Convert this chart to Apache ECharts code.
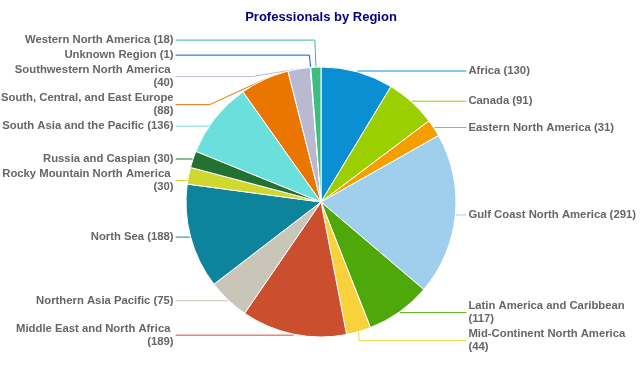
<!DOCTYPE html>
<html>
<head>
    <meta charset="utf-8">
    <title>Professionals by Region</title>
    <script src="https://cdn.jsdelivr.net/npm/echarts@6/dist/echarts.min.js"></script>
    <style>
        html, body { margin: 0; padding: 0; background: #fff; }
        #chart { width: 642px; height: 377px; }
    </style>
</head>
<body>
    <div id="chart"></div>
    <script>
    // region names, alphabetical as in the source chart
    const regions = [
        "Africa", "Canada", "Eastern North America", "Gulf Coast North America",
        "Latin America and Caribbean", "Mid-Continent North America",
        "Middle East and North Africa", "Northern Asia Pacific", "North Sea",
        "Rocky Mountain North America", "Russia and Caspian",
        "South Asia and the Pacific", "South, Central, and East Europe",
        "Southwestern North America", "Unknown Region", "Western North America"
    ];
    const headcount = [130, 91, 31, 291, 117, 44, 189, 75, 188, 30, 30, 136, 88, 40, 1, 18];
    const sliceColors = [
        "#0a8fd2", "#9bcf00", "#f49e00", "#a0cfee", "#4ea80a", "#f7d23a",
        "#cb4f2e", "#c9c6b9", "#0d849b", "#d0d82d", "#247232", "#6adfdc",
        "#ea7600", "#b9bad2", "#0062c8", "#3dbd80"
    ];
    // the two thin slices at the top get a longer first leg so their labels sit above the rest
    const lineLen = [1, 1, 1, 1, 1, 1, 1, 1, 1, 1, 1, 1, 1, 1, 14, 27];
    // North Sea sets the left-hand alignment column
    const lineLen2 = [10, 10, 10, 10, 10, 10, 10, 10, 14, 10, 10, 10, 10, 10, 10, 10];

    const chart = echarts.init(document.getElementById('chart'));

    chart.setOption({
        animation: false,
        title: {
            text: "Professionals by Region",
            left: "center",
            top: 6,
            textStyle: { color: "#000080", fontSize: 13, fontWeight: "bold", fontFamily: "Liberation Sans, Arial" }
        },
        series: [{
            type: "pie",
            center: [321, 202],
            radius: 135,
            startAngle: 90,
            clockwise: true,
            data: regions.map((name, i) => ({
                name: name,
                value: headcount[i],
                itemStyle: { color: sliceColors[i] },
                labelLine: { length: lineLen[i], length2: lineLen2[i], lineStyle: { color: sliceColors[i] } }
            })),
            itemStyle: { borderColor: "#fff", borderWidth: 1 },
            label: {
                formatter: "{b} ({c})",
                color: "#666",
                fontSize: 11.3,
                fontWeight: "bold",
                fontFamily: "Liberation Sans, Arial",
                lineHeight: 13,
                alignTo: "labelLine",
                distanceToLabelLine: 2,
                bleedMargin: 0,
                width: 174,
                overflow: "break"
            },
            labelLine: {
                show: true,
                lineStyle: { width: 1 }
            },
            emphasis: { disabled: true }
        }]
    });
    </script>
</body>
</html>
